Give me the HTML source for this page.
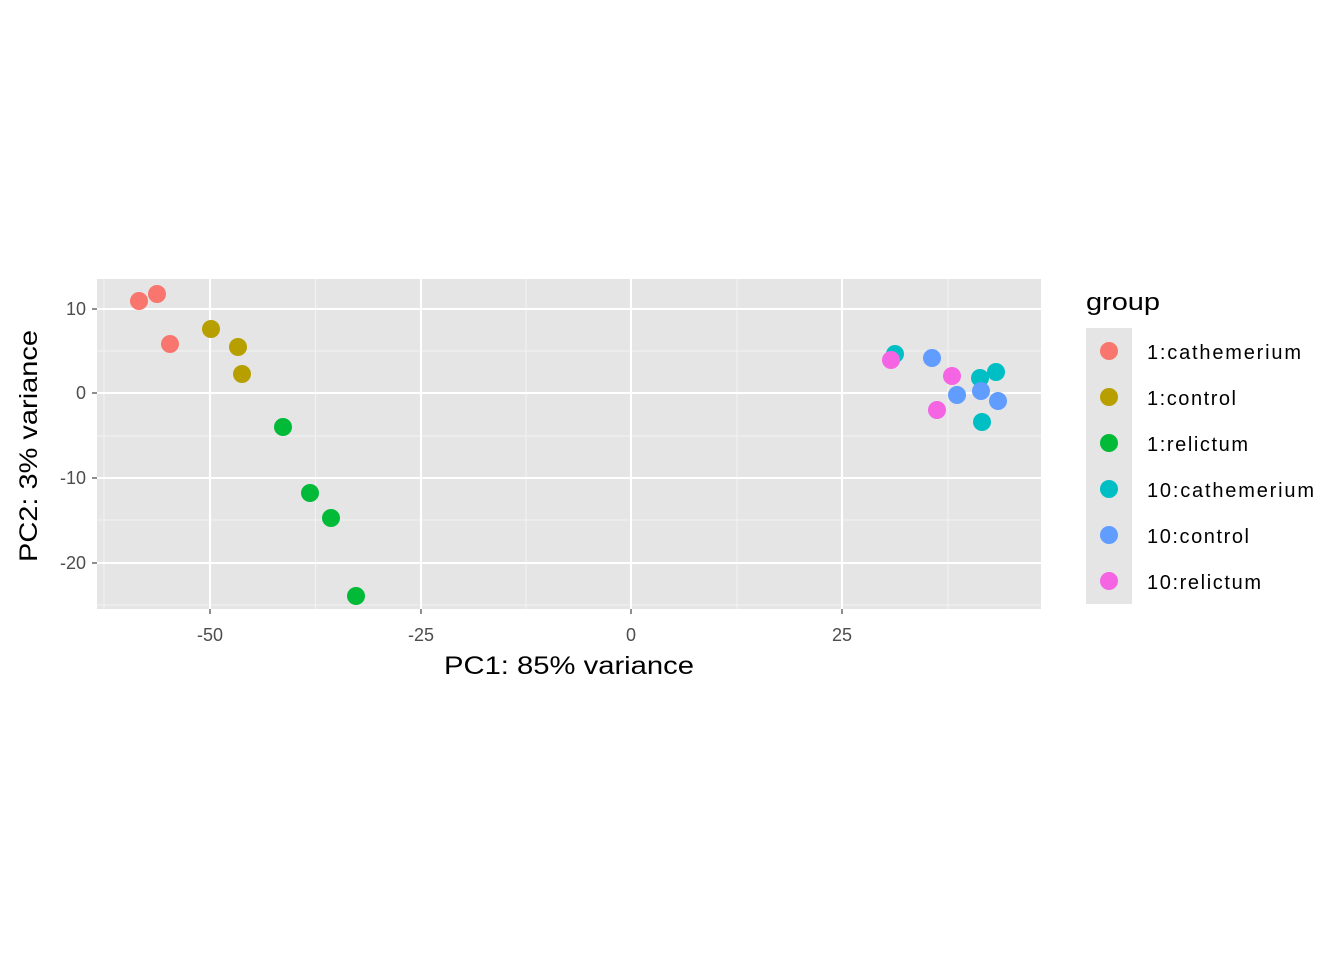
<!DOCTYPE html>
<html><head><style>body{margin:0;background:#fff}svg{display:block}</style></head><body>
<svg width="1344" height="960" xmlns="http://www.w3.org/2000/svg" font-family="Liberation Sans, Arial, sans-serif">
<rect x="97" y="279" width="944" height="330" fill="#e5e5e5"/>
<g stroke="#f2f2f2" stroke-width="1.1">
<line x1="104" y1="279" x2="104" y2="609"/><line x1="315.5" y1="279" x2="315.5" y2="609"/><line x1="526" y1="279" x2="526" y2="609"/><line x1="737" y1="279" x2="737" y2="609"/><line x1="948" y1="279" x2="948" y2="609"/>
<line x1="97" y1="351" x2="1041" y2="351"/><line x1="97" y1="436" x2="1041" y2="436"/><line x1="97" y1="520" x2="1041" y2="520"/><line x1="97" y1="605" x2="1041" y2="605"/>
</g>
<g stroke="#fff" stroke-width="2.1">
<line x1="210" y1="279" x2="210" y2="609"/><line x1="421" y1="279" x2="421" y2="609"/><line x1="631" y1="279" x2="631" y2="609"/><line x1="842" y1="279" x2="842" y2="609"/>
<line x1="97" y1="309" x2="1041" y2="309"/><line x1="97" y1="393" x2="1041" y2="393"/><line x1="97" y1="478" x2="1041" y2="478"/><line x1="97" y1="563" x2="1041" y2="563"/>
</g>
<g stroke="#333" stroke-width="1.1">
<line x1="210" y1="609" x2="210" y2="614"/><line x1="421" y1="609" x2="421" y2="614"/><line x1="631" y1="609" x2="631" y2="614"/><line x1="842" y1="609" x2="842" y2="614"/>
<line x1="92" y1="309" x2="97" y2="309"/><line x1="92" y1="393" x2="97" y2="393"/><line x1="92" y1="478" x2="97" y2="478"/><line x1="92" y1="563" x2="97" y2="563"/>
</g>
<g font-size="18" fill="#4d4d4d" text-anchor="middle">
<text x="210" y="641">-50</text><text x="421" y="641">-25</text><text x="631" y="641">0</text><text x="842" y="641">25</text>
</g>
<g font-size="18" fill="#4d4d4d" text-anchor="end">
<text x="86" y="315">10</text><text x="86" y="399">0</text><text x="86" y="484">-10</text><text x="86" y="569">-20</text>
</g>
<text x="444" y="674" font-size="25" textLength="250" lengthAdjust="spacingAndGlyphs">PC1: 85% variance</text>
<text transform="translate(37,562) rotate(-90)" font-size="25" textLength="232" lengthAdjust="spacingAndGlyphs">PC2: 3% variance</text>
<g>
<circle cx="139" cy="301" r="9" fill="#F8766D"/><circle cx="157" cy="294" r="9" fill="#F8766D"/><circle cx="170" cy="344" r="9" fill="#F8766D"/>
<circle cx="211" cy="329" r="9" fill="#B79F00"/><circle cx="238" cy="347" r="9" fill="#B79F00"/><circle cx="242" cy="374" r="9" fill="#B79F00"/>
<circle cx="283" cy="427" r="9" fill="#00BA38"/><circle cx="310" cy="493" r="9" fill="#00BA38"/><circle cx="331" cy="518" r="9" fill="#00BA38"/><circle cx="356" cy="596" r="9" fill="#00BA38"/>
<circle cx="895" cy="354" r="9" fill="#00BFC4"/><circle cx="980" cy="378" r="9" fill="#00BFC4"/><circle cx="996" cy="372" r="9" fill="#00BFC4"/><circle cx="982" cy="422" r="9" fill="#00BFC4"/>
<circle cx="932" cy="358" r="9" fill="#619CFF"/><circle cx="957" cy="395" r="9" fill="#619CFF"/><circle cx="981" cy="391" r="9" fill="#619CFF"/><circle cx="998" cy="401" r="9" fill="#619CFF"/>
<circle cx="891" cy="360" r="9" fill="#F564E3"/><circle cx="952" cy="376" r="9" fill="#F564E3"/><circle cx="937" cy="410" r="9" fill="#F564E3"/>
</g>
<text x="1086" y="310" font-size="24" textLength="74" lengthAdjust="spacingAndGlyphs">group</text>
<rect x="1086" y="328" width="46" height="276" fill="#e5e5e5"/>
<circle cx="1109" cy="351" r="9" fill="#F8766D"/><circle cx="1109" cy="397" r="9" fill="#B79F00"/><circle cx="1109" cy="443" r="9" fill="#00BA38"/><circle cx="1109" cy="489" r="9" fill="#00BFC4"/><circle cx="1109" cy="535" r="9" fill="#619CFF"/><circle cx="1109" cy="581" r="9" fill="#F564E3"/>
<g font-size="20" fill="#000" lengthAdjust="spacingAndGlyphs">
<text x="1147" y="359" textLength="154">1:cathemerium</text><text x="1147" y="405" textLength="89">1:control</text><text x="1147" y="451" textLength="101">1:relictum</text><text x="1147" y="497" textLength="167">10:cathemerium</text><text x="1147" y="543" textLength="102">10:control</text><text x="1147" y="589" textLength="114">10:relictum</text>
</g>
</svg>
</body></html>
